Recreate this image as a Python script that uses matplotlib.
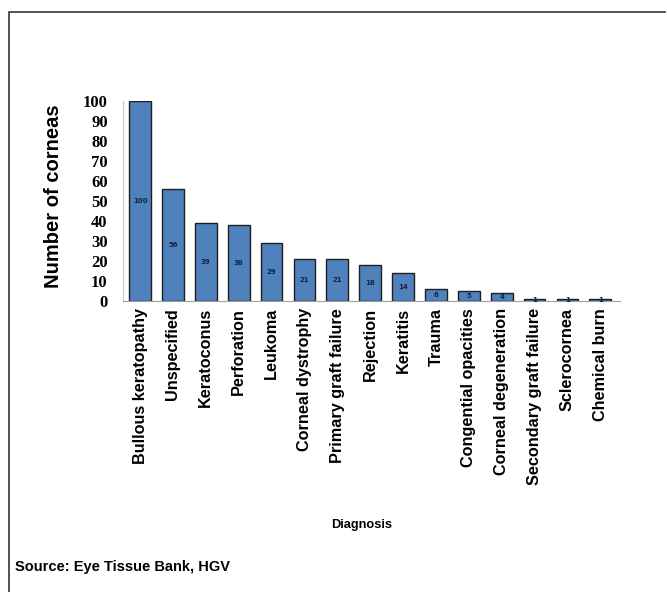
import matplotlib.pyplot as plt
from matplotlib.lines import Line2D
import numpy as np

diagnoses = ["Bullous keratopathy", "Unspecified", "Keratoconus", "Perforation",
             "Leukoma", "Corneal dystrophy", "Primary graft failure", "Rejection",
             "Keratitis", "Trauma", "Congential opacities", "Corneal degeneration",
             "Secondary graft failure", "Sclerocornea", "Chemical burn"]
corneas = [100, 56, 39, 38, 29, 21, 21, 18, 14, 6, 5, 4, 1, 1, 1]
yticks = list(range(0, 101, 10))

W, H = 667, 592
fig = plt.figure(figsize=(W / 100, H / 100), dpi=100)
ax = fig.add_axes([123 / W, 1 - 301 / H, (620 - 123) / W, 200 / H])

x = np.arange(len(diagnoses))
bars = ax.bar(x, corneas, width=0.66, color="#4F81BD", edgecolor="#1f1f1f", linewidth=1.0, zorder=3)

for xi, v in zip(x, corneas):
    ax.text(xi, v / 2, str(v), ha="center", va="center",
            fontsize=5, color="#14233f", fontweight="bold", zorder=4)

ax.set_xlim(-0.52, 14.6)
ax.set_ylim(0, 100)
ax.set_yticks(yticks)
ax.set_yticklabels([str(t) for t in yticks], family="Liberation Serif", fontweight="bold", fontsize=12)
ax.set_xticks(x)
ax.set_xticklabels(diagnoses, rotation=90, family="Liberation Sans", fontweight="bold", fontsize=11.7)
ax.tick_params(axis="both", length=0)
ax.tick_params(axis="x", pad=5)
ax.tick_params(axis="y", pad=11)

for s in ["top", "right"]:
    ax.spines[s].set_visible(False)
ax.spines["left"].set_color("#c8c8c8")
ax.spines["bottom"].set_color("#a0a0a0")

ax.set_ylabel("Number of corneas", family="Liberation Sans", fontweight="bold", fontsize=14.5, labelpad=14)
ax.yaxis.label.set_y(0.525)

fig.text(362 / W, 1 - 525 / H, "Diagnosis", ha="center", va="center",
         family="Liberation Sans", fontweight="bold", fontsize=9.2)
fig.text(15 / W, 1 - 567 / H, "Source: Eye Tissue Bank, HGV", ha="left", va="center",
         family="Liberation Sans", fontweight="bold", fontsize=10.5)

# frame lines (left and top only)
fig.add_artist(Line2D([9 / W, 9 / W, 665 / W], [0, 1 - 12 / H, 1 - 12 / H],
                      transform=fig.transFigure, color="#333333", linewidth=1.2))

fig.savefig("out.png", dpi=100)
